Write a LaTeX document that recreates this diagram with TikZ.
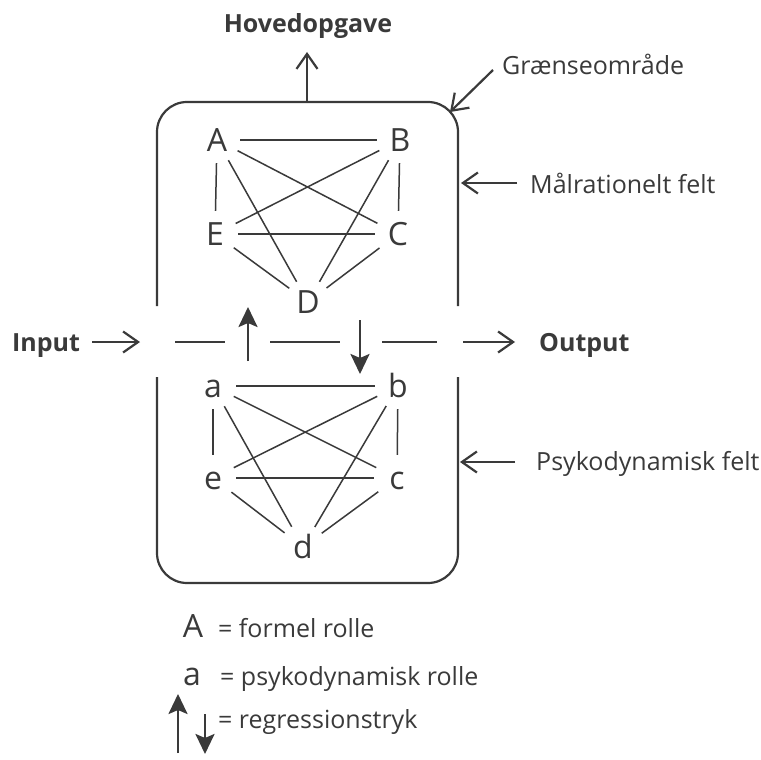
\documentclass[tikz,border=0pt]{standalone}
\usepackage{fontspec}
\setmainfont{Open Sans}
\usetikzlibrary{arrows.meta}
\definecolor{ink}{HTML}{3A3A3A}

\tikzset{
  role/.style={circle,inner sep=0pt,minimum size=46pt,text height=22pt,text depth=0pt,
               font=\fontsize{32}{32}\selectfont,text=ink},
  caption/.style={inner sep=0pt,anchor=base,font=\fontsize{25}{30}\selectfont,text=ink},
  tie/.style={draw=ink,line width=1.5pt},
  wall/.style={draw=ink,line width=2.2pt,rounded corners=30pt},
  barb/.style={draw=ink,line width=2.2pt,-{Straight Barb[length=15pt,width=21pt]}},
  regress/.style={draw=ink,line width=2.6pt,-{Stealth[length=20pt,width=19pt,inset=4pt]}}
}

\begin{document}
\begin{tikzpicture}[x=1pt,y=-1pt]

        \fill[white] (0,0) rectangle (761,760);
        \useasboundingbox (0,0) rectangle (761,760);

        % boundary, open at the sides for the input-output line
        \draw[wall] (157,306) -- (157,102) -- (458,102) -- (458,306);
        \draw[wall] (458,377) -- (458,583) -- (157,583) -- (157,377);

        \begin{scope}[every node/.style={role}]
          \node (A) at (217,140) {A};
          \node (B) at (400,140) {B};
          \node (E) at (215,234) {E};
          \node (C) at (398,234) {C};
          \node (D) at (308,302) {D};
          \node (a) at (213,386) {a};
          \node (b) at (398,386) {b};
          \node (e) at (213,478) {e};
          \node (c) at (397,478) {c};
          \node (d) at (303,547) {d};
        \end{scope}

        \begin{scope}[every edge/.style={tie}]
          \path (A) edge (B);
          \path (A) edge (E);
          \path (A) edge (C);
          \path (A) edge (D);
          \path (B) edge (E);
          \path (B) edge (C);
          \path (B) edge (D);
          \path (E) edge (C);
          \path (E) edge (D);
          \path (C) edge (D);
          \path (a) edge (b);
          \path (a) edge (e);
          \path (a) edge (c);
          \path (a) edge (d);
          \path (b) edge (e);
          \path (b) edge (c);
          \path (b) edge (d);
          \path (e) edge (c);
          \path (e) edge (d);
          \path (c) edge (d);
        \end{scope}

        \begin{scope}[every node/.style={caption}]
          \node[font=\fontsize{25}{30}\selectfont\bfseries] (task) at (308,33) {Hovedopgave};
          \node[anchor=base west] (border) at (502,75) {Grænseområde};
          \node[anchor=base west] (goalfield) at (530,193) {Målrationelt felt};
          \node[anchor=base west] (psyfield) at (536,470) {Psykodynamisk felt};
          \node[font=\fontsize{25}{30}\selectfont\bfseries] (input) at (46,351) {Input};
          \node[anchor=base west,font=\fontsize{25}{30}\selectfont\bfseries] (output) at (539,351) {Output};
        \end{scope}

        % task arrow and pointers to the box
        \coordinate (boxtop) at (307,102);
        \coordinate (tasktip) at (307,52);
        \draw[barb] (boxtop) -- (tasktip);

        \coordinate (bordertail) at (493,70);
        \coordinate (bordertip) at (450,112);
        \draw[barb] (bordertail) -- (bordertip);

        \coordinate (goaltail) at (517,183);
        \coordinate (goaltip) at (461,183);
        \draw[barb] (goaltail) -- (goaltip);

        \coordinate (psytail) at (515,462);
        \coordinate (psytip) at (460,462);
        \draw[barb] (psytail) -- (psytip);

        % input - output line
        \coordinate (in1) at (92,342);
        \coordinate (in2) at (140,342);
        \coordinate (mid1) at (175,342);
        \coordinate (mid2) at (225,342);
        \coordinate (mid3) at (270,342);
        \coordinate (mid4) at (340,342);
        \coordinate (mid5) at (382,342);
        \coordinate (mid6) at (437,342);
        \coordinate (out1) at (463,342);
        \coordinate (out2) at (515,342);
        \draw[barb] (in1) -- (in2);
        \draw[tie,line width=2pt] (mid1) -- (mid2);
        \draw[tie,line width=2pt] (mid3) -- (mid4);
        \draw[tie,line width=2pt] (mid5) -- (mid6);
        \draw[barb] (out1) -- (out2);

        % regression arrows
        \coordinate (up1) at (248,361);
        \coordinate (up2) at (248,307);
        \coordinate (dn1) at (360,320);
        \coordinate (dn2) at (360,374);
        \draw[regress] (up1) -- (up2);
        \draw[regress] (dn1) -- (dn2);

        % legend
        \node[role,anchor=base] (keyA) at (193,637) {A};
        \node[caption,anchor=base west] (keyAtext) at (218,637) {= formel rolle};
        \node[role,anchor=base] (keya) at (192,685) {a};
        \node[caption,anchor=base west] (keyatext) at (220,685) {= psykodynamisk rolle};
        \coordinate (keyup1) at (178,753);
        \coordinate (keyup2) at (178,694);
        \coordinate (keydn1) at (205,714);
        \coordinate (keydn2) at (205,754);
        \draw[regress] (keyup1) -- (keyup2);
        \draw[regress] (keydn1) -- (keydn2);
        \node[caption,anchor=base west] (keyrtext) at (218,728) {= regressionstryk};

      \end{tikzpicture}
\end{document}
